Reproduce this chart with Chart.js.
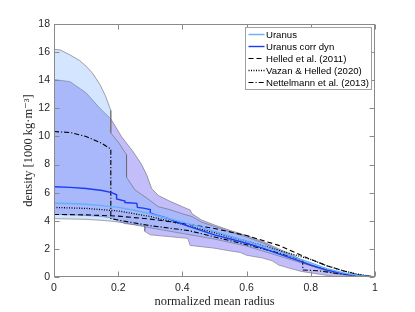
<!DOCTYPE html>
<html>
<head>
<meta charset="utf-8">
<script src="https://cdn.jsdelivr.net/npm/chart.js@4.4.0/dist/chart.umd.min.js"></script>
<style>
  html, body { margin: 0; padding: 0; background: #fff; }
  #wrap { width: 415px; height: 312px; }
</style>
</head>
<body>
<div id="wrap"><canvas id="c" width="415" height="312"></canvas></div>
<script>
'use strict';

/* ---------- data ---------- */
const xTicks = [0, 0.2, 0.4, 0.6, 0.8, 1];
const yTicks = [0, 2, 4, 6, 8, 10, 12, 14, 16, 18];

// Uranus envelope (light blue band)
const uraUpX = [0, 0.02, 0.05, 0.08, 0.1, 0.12, 0.143, 0.16, 0.177, 0.177, 0.2, 0.206, 0.226, 0.226, 0.252, 0.29, 0.325, 0.36, 0.4, 0.43, 0.46, 0.5, 0.55, 0.6, 0.653, 0.7, 0.75, 0.778, 0.82, 0.87, 0.93, 1];
const uraUpY = [16.2, 16.15, 15.8, 15.4, 15.0, 14.5, 13.7, 12.9, 11.85, 10.25, 9.6, 9.4, 8.7, 7.1, 6.2, 5.6, 5.0, 4.8, 4.5, 4.3, 3.9, 3.6, 3.2, 2.85, 2.4, 1.9, 1.4, 1.0, 0.65, 0.25, 0.08, 0];
const uraLoX = [0, 0.05, 0.1, 0.15, 0.18, 0.22, 0.3, 0.4, 0.5, 0.6, 0.7, 0.8, 0.9, 1];
const uraLoY = [4.15, 4.13, 4.1, 4.03, 3.97, 3.85, 3.5, 3.1, 2.7, 2.2, 1.5, 0.8, 0.25, 0];

// Uranus corr dyn envelope (blue band)
const dynUpX = [0, 0.05, 0.1, 0.143, 0.177, 0.21, 0.247, 0.273, 0.29, 0.304, 0.325, 0.36, 0.4, 0.424, 0.43, 0.46, 0.5, 0.55, 0.6, 0.653, 0.7, 0.75, 0.778, 0.82, 0.87, 0.93, 1];
const dynUpY = [14.05, 13.9, 13.1, 12.0, 11.25, 10.0, 8.9, 8.0, 7.2, 6.3, 5.8, 5.4, 5.0, 4.77, 4.5, 4.05, 3.7, 3.3, 2.95, 2.5, 2.0, 1.5, 1.1, 0.75, 0.3, 0.1, 0];
const dynLoX = [0, 0.05, 0.1, 0.15, 0.18, 0.2, 0.221, 0.283, 0.283, 0.3, 0.417, 0.424, 0.5, 0.55, 0.58, 0.6, 0.65, 0.68, 0.7, 0.73, 0.77, 0.87, 1];
const dynLoY = [4.45, 4.43, 4.38, 4.3, 4.2, 4.0, 3.8, 3.65, 3.25, 3.0, 2.75, 2.25, 2.05, 1.85, 1.75, 1.55, 1.35, 1.15, 0.85, 0.65, 0.4, 0.05, 0];

// mean profiles
const uraX = [0, 0.05, 0.1, 0.15, 0.2, 0.25, 0.3, 0.35, 0.4, 0.45, 0.5, 0.55, 0.6, 0.65, 0.7, 0.75, 0.8, 0.85, 0.9, 0.95, 1];
const uraY = [5.25, 5.23, 5.18, 5.08, 4.95, 4.75, 4.5, 4.2, 3.9, 3.6, 3.25, 2.9, 2.55, 2.2, 1.8, 1.4, 1.0, 0.6, 0.3, 0.1, 0];
const dynX = [0, 0.05, 0.1, 0.15, 0.18, 0.195, 0.195, 0.221, 0.221, 0.258, 0.26, 0.278, 0.3, 0.3, 0.32, 0.35, 0.382, 0.42, 0.46, 0.5, 0.55, 0.6, 0.65, 0.7, 0.75, 0.8, 0.85, 0.9, 0.95, 1];
const dynY = [6.42, 6.38, 6.3, 6.15, 6.0, 5.85, 5.55, 5.4, 5.3, 5.24, 4.95, 4.9, 4.8, 4.55, 4.4, 4.2, 3.93, 3.6, 3.3, 3.0, 2.7, 2.4, 2.05, 1.65, 1.25, 0.85, 0.5, 0.25, 0.08, 0];
const helX = [0, 0.1, 0.2, 0.3, 0.4, 0.5, 0.6, 0.7, 0.77, 0.8, 0.85, 0.9, 0.95, 1];
const helY = [4.45, 4.42, 4.33, 4.12, 3.82, 3.45, 2.95, 2.25, 1.55, 1.25, 0.8, 0.45, 0.15, 0];
const vazX = [0, 0.1, 0.2, 0.3, 0.4, 0.5, 0.6, 0.7, 0.8, 0.85, 0.9, 0.95, 1];
const vazY = [4.95, 4.88, 4.7, 4.3, 3.75, 3.15, 2.55, 1.9, 1.25, 0.8, 0.45, 0.18, 0];
const netX = [0, 0.05, 0.1, 0.15, 0.177, 0.177, 0.2, 0.3, 0.42, 0.5, 0.6, 0.7, 0.775, 0.775, 0.82, 0.9, 1];
const netY = [10.35, 10.28, 10.0, 9.5, 9.1, 4.15, 4.05, 3.65, 3.3, 2.85, 2.3, 1.7, 1.2, 0.5, 0.45, 0.2, 0];

const pts = (xs, ys) => xs.map((x, i) => ({ x, y: ys[i] }));

Chart.defaults.font.family = "'Liberation Sans', Arial, sans-serif";
Chart.defaults.color = '#262626';

/* ---------- datasets ---------- */
const edge = { borderColor: '#666', borderWidth: 0.6, pointRadius: 0, tension: 0 };
const datasets = [
    { label: 'Uranus', data: pts(uraX, uraY), borderColor: '#62b0ff', borderWidth: 1.4, pointRadius: 0, fill: false, order: 0 },
    { label: 'Uranus corr dyn', data: pts(dynX, dynY), borderColor: '#1a3cf5', borderWidth: 1.4, pointRadius: 0, fill: false, order: 0 },
    { label: 'Helled et al. (2011)', data: pts(helX, helY), borderColor: '#000', borderWidth: 1.1, borderDash: [5, 3], pointRadius: 0, fill: false, order: 0 },
    { label: 'Vazan & Helled (2020)', data: pts(vazX, vazY), borderColor: '#000', borderWidth: 1.3, borderDash: [1, 1.5], pointRadius: 0, fill: false, order: 0 },
    { label: 'Nettelmann et al. (2013)', data: pts(netX, netY), borderColor: '#000', borderWidth: 1.1, borderDash: [5, 2, 1.2, 2], pointRadius: 0, fill: false, order: 0 },
    // band 1 (index 5, 6)
    Object.assign({ label: '', data: pts(uraUpX, uraUpY), fill: '+1', backgroundColor: 'rgba(110,170,255,0.3)', order: 1 }, edge),
    Object.assign({ label: '', data: pts(uraLoX, uraLoY), fill: false, order: 1 }, edge),
    // band 2 (index 7, 8)
    Object.assign({ label: '', data: pts(dynUpX, dynUpY), fill: '+1', backgroundColor: 'rgba(136,124,243,0.5)', order: 2 }, edge),
    Object.assign({ label: '', data: pts(dynLoX, dynLoY), fill: false, order: 2 }, edge)
];

/* ---------- box + inward ticks (matlab style) ---------- */
const framePlugin = {
    id: 'frame',
    afterDraw(chart) {
        const { ctx, chartArea: a, scales: { x, y } } = chart;
        const L = Math.round(a.left) + 0.5, R = Math.round(a.right) - 0.5;
        const T = Math.round(a.top) + 0.5, B = Math.round(a.bottom) - 0.5;
        ctx.save();
        ctx.strokeStyle = '#8a8a8a'; ctx.lineWidth = 1;
        ctx.strokeRect(L, T, R - L, B - T);
        ctx.beginPath();
        xTicks.forEach(v => {
            const px = Math.round(x.getPixelForValue(v)) + 0.5;
            ctx.moveTo(px, B); ctx.lineTo(px, B - 5);
            ctx.moveTo(px, T); ctx.lineTo(px, T + 5);
        });
        yTicks.forEach(v => {
            const py = Math.round(y.getPixelForValue(v)) + 0.5;
            ctx.moveTo(L, py); ctx.lineTo(L + 5, py);
            ctx.moveTo(R, py); ctx.lineTo(R - 5, py);
        });
        ctx.stroke();
        ctx.restore();
    }
};

/* ---------- legend box ---------- */
const legendPlugin = {
    id: 'boxLegend',
    afterDraw(chart) {
        const ctx = chart.ctx;
        const items = chart.data.datasets.filter(d => d.label);
        const bx = 245.5, by = 27.5, bw = 126, bh = 62;
        ctx.save();
        ctx.fillStyle = '#fff';
        ctx.fillRect(bx, by, bw, bh);
        ctx.strokeStyle = '#a0a0a0'; ctx.lineWidth = 1;
        ctx.strokeRect(bx, by, bw, bh);
        ctx.font = "9.6px 'Liberation Sans', Arial, sans-serif";
        ctx.textBaseline = 'middle';
        items.forEach((d, i) => {
            const ry = by + 7 + i * 12;
            ctx.beginPath();
            ctx.setLineDash(d.borderDash || []);
            ctx.strokeStyle = d.borderColor; ctx.lineWidth = d.borderWidth;
            ctx.moveTo(bx + 3, ry); ctx.lineTo(bx + 19, ry);
            ctx.stroke();
            ctx.setLineDash([]);
            ctx.fillStyle = '#000';
            ctx.fillText(d.label, bx + 20.5, ry + 0.5);
        });
        ctx.restore();
    }
};

new Chart(document.getElementById('c'), {
    type: 'line',
    data: { datasets },
    options: {
        responsive: false,
        devicePixelRatio: 1,
        animation: false,
        layout: { padding: { top: 24, right: 40, left: 0, bottom: 0 } },
        plugins: { legend: { display: false }, tooltip: { enabled: false } },
        elements: { line: { tension: 0 } },
        scales: {
            x: {
                type: 'linear', min: 0, max: 1,
                afterFit: s => { s.height = 35; },
                afterBuildTicks: s => { s.ticks = xTicks.map(v => ({ value: v })); },
                grid: { display: false, drawTicks: false }, border: { display: false },
                ticks: { font: { size: 10.5 }, padding: 5, maxRotation: 0, callback: v => String(v) },
                title: {
                    display: true, text: 'normalized mean radius',
                    font: { family: "'Liberation Serif', 'DejaVu Serif', serif", size: 12.5 },
                    color: '#262626', padding: { top: 0, bottom: 3 }
                }
            },
            y: {
                type: 'linear', min: 0, max: 18,
                afterFit: s => { s.width = 54; },
                afterBuildTicks: s => { s.ticks = yTicks.map(v => ({ value: v })); },
                grid: { display: false, drawTicks: false }, border: { display: false },
                ticks: { font: { size: 10.5 }, padding: 4, callback: v => String(v) },
                title: {
                    display: true, text: 'density [1000 kg·m⁻³]',
                    font: { family: "'Liberation Serif', 'DejaVu Serif', serif", size: 12.5 },
                    color: '#262626', padding: { top: 21, bottom: 0 }
                }
            }
        }
    },
    plugins: [framePlugin, legendPlugin]
});
</script>
</body>
</html>
